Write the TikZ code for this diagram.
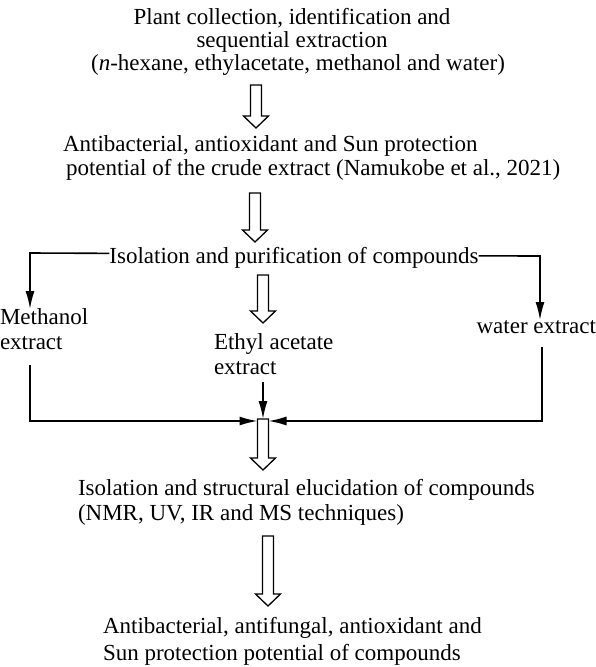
\documentclass[tikz,border=0pt]{standalone}
\usepackage{fontspec}
\setmainfont{Liberation Serif}
\usetikzlibrary{arrows.meta}
\newcommand\hollowdown[3]{% x, top, tip
  \draw[hollow] ({#1-5.5},#2) -- ({#1+5.5},#2) -- ({#1+5.5},{#3-12}) -- ({#1+12.5},{#3-12})
    -- (#1,#3) -- ({#1-12.5},{#3-12}) -- ({#1-5.5},{#3-12}) -- cycle;}
\begin{document}
\begin{tikzpicture}[x=1pt,y=-1pt,
  txt/.style={inner sep=0pt, outer sep=0pt, font=\fontsize{23}{25}\selectfont},
  conn/.style={line width=1.6pt, -{Latex[length=18pt,width=9pt]}},
  hollow/.style={line width=1.3pt, fill=white, line join=miter}]
\useasboundingbox (0,0) rectangle (596,667);

% block 1
\node[txt, anchor=base] (t1a) at (292,24) {Plant collection, identification and};
\node[txt, anchor=base] (t1b) at (292,47) {sequential extraction};
\node[txt, anchor=base] (t1c) at (298,70) {(\textit{n}-hexane, ethylacetate, methanol and water)};
% block 2
\node[txt, anchor=base west] (t2a) at (63,151) {Antibacterial, antioxidant and Sun protection};
\node[txt, anchor=base west] (t2b) at (66,175) {potential of the crude extract (Namukobe et al., 2021)};
% block 3
\node[txt, anchor=base] (iso) at (294,263) {Isolation and purification of compounds};
\node[txt, anchor=north west, align=left] (meth) at (0,309) {Methanol\\extract};
\node[txt, anchor=north west, align=left] (eth) at (214,334) {Ethyl acetate\\extract};
\node[txt, anchor=base east] (wat) at (596,333) {water extract};
% block 4
\node[txt, anchor=base west] (t4a) at (78,495) {Isolation and structural elucidation of compounds};
\node[txt, anchor=base west] (t4b) at (78,520) {(NMR, UV, IR and MS techniques)};
% block 5
\node[txt, anchor=base west] (t5a) at (103,633) {Antibacterial, antifungal, antioxidant and};
\node[txt, anchor=base west] (t5b) at (103,660) {Sun protection potential of compounds};

% hollow arrows
\hollowdown{256}{85}{128}
\hollowdown{255}{193}{242}
\hollowdown{263}{275}{323}
\hollowdown{263}{419}{470}
\hollowdown{268}{536}{606}

% coordinates
\coordinate (lc) at (30,253);
\coordinate (rc) at (540,256);
\coordinate (mbot) at (30,365);
\coordinate (wbot) at (542,347);
\coordinate (ebot) at (263,382);
\coordinate (boxl) at (257.5,421);
\coordinate (boxr) at (268.5,421);
\coordinate (boxt) at (263,419);

% branches from isolation
\draw[conn] ([yshift=4pt]iso.west) -- (lc) -- (lc |- meth.north);
\draw[conn] ([yshift=1.5pt]iso.east) -- (rc) -- (rc |- wat.north);
% collectors
\draw[conn] (mbot) |- (boxl);
\draw[conn] (wbot) |- (boxr);
\draw[conn] (ebot) -- (boxt);
\end{tikzpicture}
\end{document}
